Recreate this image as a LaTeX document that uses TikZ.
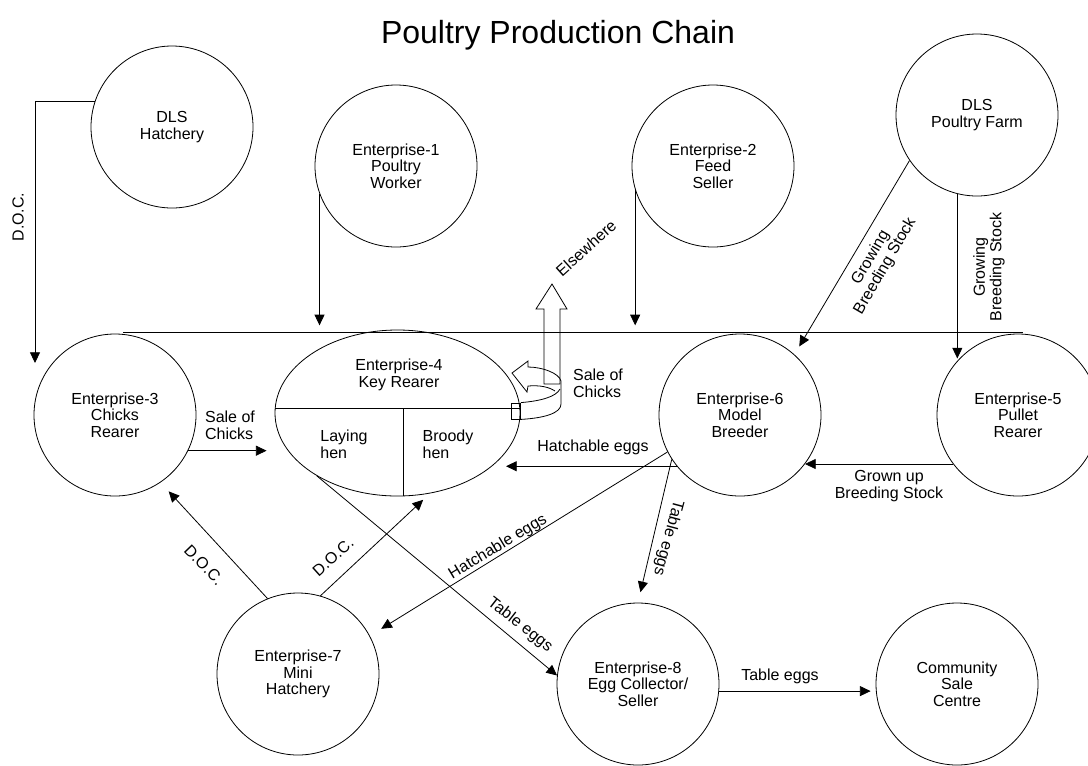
\documentclass[tikz,border=0pt]{standalone}
\usepackage{fontspec}
\setmainfont{Liberation Sans}
\usetikzlibrary{shapes.geometric}
\usetikzlibrary{arrows.meta}
\newcommand{\nodefont}{\fontsize{12}{12.5}\selectfont}

\begin{document}
\begin{tikzpicture}[x=0.75pt, y=-0.75pt, line width=0.6pt,
    ent/.style={circle, draw, minimum size=121.5pt, inner sep=0pt, align=center, font=\nodefont},
    lab/.style={inner sep=0pt, align=center, font=\nodefont},
    flow/.style={-{Triangle[length=8pt,width=7.5pt]}}]
  \clip (0,0) rectangle (1088,765);
  \node[font=\fontsize{24}{28}\selectfont] (title) at (558,35) {Poultry Production Chain};

  % circles
  \node[ent] (hatch) at (172,127) {DLS\\Hatchery};
  \node[ent] (ent1) at (396,166) {Enterprise-1\\Poultry\\Worker};
  \node[ent] (ent2) at (713,166) {Enterprise-2\\Feed\\Seller};
  \node[ent] (farm) at (977,115) {DLS\\Poultry Farm};
  \node[ent] (ent3) at (115,415) {Enterprise-3\\Chicks\\Rearer};
  \node[ent] (ent6) at (740,415) {Enterprise-6\\Model\\Breeder};
  \node[ent] (ent5) at (1018,415) {Enterprise-5\\Pullet\\Rearer};
  \node[ent] (ent7) at (298,674) {Enterprise-7\\Mini\\Hatchery};
  \node[ent] (ent8) at (638,684) {Enterprise-8\\Egg Collector/\\Seller};
  \node[ent] (comm) at (957,684) {Community\\Sale\\Centre};

  % key rearer
  \node[ellipse, draw, minimum width=183.75pt, minimum height=124.5pt, inner sep=0pt] (ent4) at (397.5,413) {};
  \node[lab] (e4name) at (399,375) {Enterprise-4\\Key Rearer};
  \node[lab, align=left] (lay) at (344,444) {Laying\\hen};
  \node[lab, align=left] (brood) at (448,444) {Broody\\hen};
  \coordinate (mid) at (403,409);
  \draw (ent4.178) -- (ent4.2);
  \draw (mid) -- (mid |- ent4.south);
  \node[draw, minimum width=6.75pt, minimum height=12pt, inner sep=0pt] (tab) at (516,411) {};
  \draw (tab.north east) .. controls (540,401) and (556,397) .. (560,389);
  \draw (tab.south east) .. controls (545,418) and (561,413) .. (561,404) -- (561,381)
    .. controls (559,373) and (542,367) .. (528,367) -- (528,361) -- (512,373) -- (527,392) -- (528,386)
    .. controls (540,385) and (549,387) .. (555,391);
  \draw (544,384) -- (544,309) -- (536,309) -- (552,284) -- (567,309) -- (560,309) -- (560,384) -- cycle;

  % bar
  \coordinate (barL) at (123,332);
  \coordinate (barR) at (1023,332);
  \draw (barL) -- (barR);
  \coordinate (docin) at (35,363);

  % connectors
  \draw[flow] (hatch.162) -| (docin);
  \draw[flow, shorten >=5pt] (ent1.200) -- (ent1.200 |- barL);
  \draw[flow, shorten >=5pt] (ent2.197) -- (ent2.197 |- barL);
  \draw[flow, shorten >=7pt] (farm.214) -- (ent6.48);
  \draw[flow] (farm.256) -- (farm.256 |- ent5.136);
  \draw[flow, shorten >=16pt] (ent3.-26) -- (ent3.-26 -| ent4.199);
  \draw[flow, shorten >=10pt] (ent6.219) -- (ent6.219 -| ent4.-29);
  \draw[flow] (ent5.217) -- (ent6.-37);
  \draw[flow, shorten >=9pt] (ent7.112) -- (ent3.-56);
  \draw[flow, shorten >=7pt] (ent7.74) -- (ent4.-68);
  \draw[flow] (ent4.-142) -- (ent8.174);
  \draw[flow, shorten >=10pt] (ent6.207) -- (ent7.28);
  \draw[flow, shorten >=8pt] (ent6.213) -- (ent8.north);
  \draw[flow, shorten >=3.75pt] (ent8.-5) -- (ent8.-5 -| comm.west);

  % labels
  \node[lab, rotate=90] (docA) at (18,217) {D.O.C.};
  \node[lab, align=left] (saleA) at (230,425) {Sale of\\Chicks};
  \node[lab, align=left] (saleB) at (598,383) {Sale of\\Chicks};
  \node[lab] (hatchA) at (593,447) {Hatchable eggs};
  \node[lab] (grown) at (889,486) {Grown up\\Breeding Stock};
  \node[lab, rotate=60] (growA) at (878,262) {Growing\\Breeding Stock};
  \node[lab, rotate=90] (growB) at (989,267) {Growing\\Breeding Stock};
  \node[lab, rotate=42] (elsew) at (586,248) {Elsewhere};
  \node[lab, rotate=-46] (docB) at (204,565) {D.O.C.};
  \node[lab, rotate=42] (docC) at (333,557) {D.O.C.};
  \node[lab, rotate=31] (hatchB) at (498,547) {Hatchable eggs};
  \node[lab, rotate=-38] (tableA) at (520,625) {Table eggs};
  \node[lab, rotate=-105] (tableB) at (668,538) {Table eggs};
  \node[lab] (tableC) at (780,676) {Table eggs};
\end{tikzpicture}
\end{document}
